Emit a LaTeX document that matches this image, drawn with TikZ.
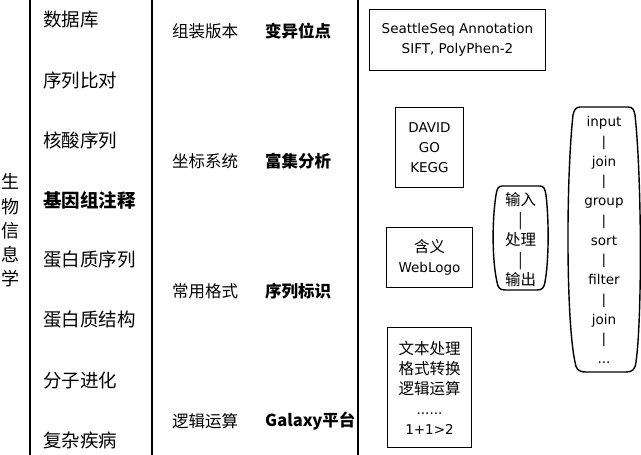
\documentclass[tikz,border=0pt]{standalone}
\usepackage{fontspec}
\setmainfont{DejaVu Sans}
\newfontfamily\cjk{Noto Sans CJK SC}
\usetikzlibrary{positioning}
\newcommand{\zh}[1]{{\cjk\fontsize{15.5}{20}\selectfont #1}}
\tikzset{
  topic/.style={anchor=west,inner sep=0pt,font=\cjk\fontsize{18.5}{20}\selectfont},
  term/.style={anchor=west,inner sep=0pt,font=\cjk\fontsize{16.5}{18}\selectfont},
  tool/.style={anchor=west,inner sep=0pt,font=\cjk\bfseries\fontsize{16.5}{18}\selectfont},
  toolbox/.style={draw,line width=1.6pt,align=center,inner sep=0pt,font=\fontsize{13.5}{20}\selectfont},
  divider/.style={line width=1.6pt},
  flow/.style={line width=1.4pt},
}

\begin{document}
\begin{tikzpicture}[x=1pt,y=-1pt]
  \useasboundingbox (0,0) rectangle (641,455);
  % ===== dividers =====
  \draw[divider] (30,0)--(30,455);
  \draw[divider] (152,0)--(152,455);
  \draw[divider] (358,0)--(358,455);

  % ===== title (vertical) =====
  \node[align=center,inner sep=0pt,font=\cjk\fontsize{18}{24.25}\selectfont] (title) at (10.5,230.5)
       {生\\物\\信\\息\\学};

  % ===== topics =====
  \node[topic] (db)    at (43,20)  {数据库};
  \node[topic] (align) at (43,80)  {序列比对};
  \node[topic] (na)    at (43,140) {核酸序列};
  \node[topic,font=\cjk\bfseries\fontsize{18.5}{20}\selectfont] (anno) at (43,200) {基因组注释};
  \node[topic] (prseq) at (43,260) {蛋白质序列};
  \node[topic] (prst)  at (43,320) {蛋白质结构};
  \node[topic] (evo)   at (43,380) {分子进化};
  \node[topic] (dis)   at (43,440) {复杂疾病};

  % ===== terms / tools =====
  \node[term] (asm)   at (172,31)  {组装版本};
  \node[term] (coord) at (172,161) {坐标系统};
  \node[term] (fmt)   at (172,291) {常用格式};
  \node[term] (logic) at (172,421) {逻辑运算};
  \node[tool] (var)   at (265,31)  {变异位点};
  \node[tool] (enr)   at (265,161) {富集分析};
  \node[tool] (motif) at (265,291) {序列标识};
  \node[tool] (gal)   at (265,421) {Galaxy平台};

  % ===== software boxes =====
  \node[toolbox,minimum width=176pt,minimum height=61pt] (seattle) at (457.5,40)
       {SeattleSeq Annotation\\SIFT, PolyPhen-2};
  \node[toolbox,minimum width=68pt,minimum height=80pt] (david) at (429.5,147.5)
       {DAVID\\GO\\KEGG};
  \node[toolbox,minimum width=86pt,minimum height=60pt] (logo) at (429.5,257.5)
       {\zh{含义}\\WebLogo};
  \node[toolbox,minimum width=84pt,minimum height=120pt] (galbox) at (429.5,387.5)
       {\zh{文本处理}\\\zh{格式转换}\\\zh{逻辑运算}\\......\\1+1>2};

  % ===== pipelines =====
  \draw[flow] (502,186) -- (540,186) .. controls (544,186) and (545,189) .. (546,195)
       .. controls (549,220) and (549,260) .. (545,282) .. controls (544,288) and (542,290) .. (537,290)
       -- (505,290) .. controls (500,290) and (498,288) .. (497,282)
       .. controls (492,260) and (492,220) .. (496,195) .. controls (497,189) and (498,186) .. (502,186) -- cycle;
  \node[align=center,inner sep=0pt,font=\cjk\fontsize{15.5}{20}\selectfont] (io) at (520.5,240)
       {输入\\|\\处理\\|\\输出};
  \draw[flow] (580,107) -- (628,107) .. controls (633,107) and (634,110) .. (635,115)
       .. controls (642,180) and (642,320) .. (636,362) .. controls (635,370) and (632,372) .. (626,372)
       -- (586,372) .. controls (578,372) and (576,369) .. (575,362)
       .. controls (566,320) and (566,180) .. (573,115) .. controls (574,110) and (576,107) .. (580,107) -- cycle;
  \node[align=center,inner sep=0pt,font=\fontsize{13.5}{19.75}\selectfont] (ops) at (604,240)
       {input\\|\\join\\|\\group\\|\\sort\\|\\filter\\|\\join\\|\\...};
\end{tikzpicture}
\end{document}
